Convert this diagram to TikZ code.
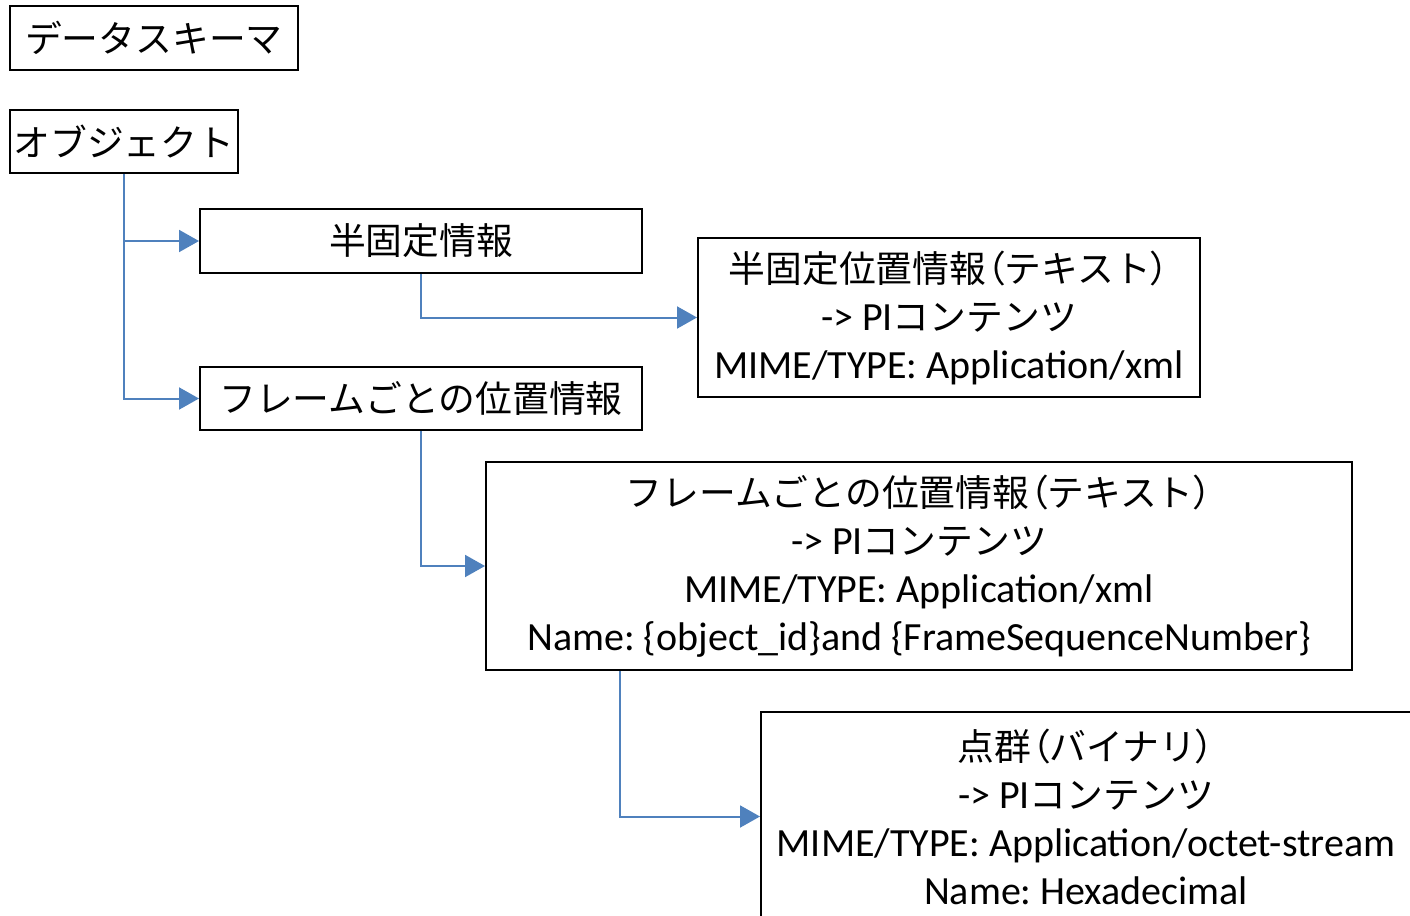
\documentclass[tikz,border=0pt]{standalone}
\usepackage{fontspec}
\setmainfont{Carlito}
\newfontfamily\jpfont[Scale=0.92]{Noto Sans CJK JP}
\newfontfamily\jpparen[Scale=0.92,RawFeature=+palt]{Noto Sans CJK JP}
\newcommand{\jp}[1]{{\jpfont #1}}
\newcommand{\lp}{{\jpparen （}}
\newcommand{\rp}{{\jpparen ）}}
\usepackage{tikz}
\usetikzlibrary{arrows.meta,positioning,calc}
\definecolor{linkblue}{RGB}{79,129,189}
\frenchspacing

\begin{document}
\begin{tikzpicture}[x=0.5pt, y=-0.5pt, font=\fontsize{20pt}{24pt}\selectfont,
        box/.style={draw, line width=1pt, fill=white, align=center, inner sep=0pt},
        link/.style={draw=linkblue, line width=1pt, -{Triangle[length=10pt,width=11pt]}}]
            \useasboundingbox (0,0) rectangle (1410,916);
            \clip (0,0) rectangle (1410,916);
            \node[box, minimum width=144pt, minimum height=32pt] (schema) at (154,38) {\jp{データスキーマ}};
            \node[box, minimum width=114pt, minimum height=31.5pt] (obj) at (124,141.5) {\jp{オブジェクト}};
            \node[box, minimum width=221pt, minimum height=32pt] (semi) at (421,241) {\jp{半固定情報}};
            \node[box, minimum width=221pt, minimum height=31.5pt] (frame) at (421,398.5) {\jp{フレームごとの位置情報}};
            \node[box, minimum width=251pt, minimum height=79.5pt] (semitext) at (949,317.5)
                {\jp{半固定位置情報}\lp\jp{テキスト}\rp\\-> PI\jp{コンテンツ}\\MIME/TYPE: Application/xml};
            \node[box, minimum width=433pt, minimum height=104pt] (frametext) at (919,566)
                {\jp{フレームごとの位置情報}\lp\jp{テキスト}\rp\\-> PI\jp{コンテンツ}\\MIME/TYPE: Application/xml\\Name: \{object\_id\}and \{FrameSequenceNumber\}};
            \node[box, minimum width=325pt, minimum height=104.5pt] (points) at (1086,816.5)
                {\jp{点群}\lp\jp{バイナリ}\rp\\-> PI\jp{コンテンツ}\\MIME/TYPE: Application/octet-stream\\Name: Hexadecimal};
            % connectors
            \draw[link] (obj.south) |- (semi.west);
            \draw[link] (obj.south) |- (frame.west);
            \draw[link] (semi.south) |- (semitext.west);
            \draw[link] (frame.south) |- (frametext.west);
            \draw[link] ($(frametext.south west)+(135,0)$) |- (points.west);
        \end{tikzpicture}
\end{document}
